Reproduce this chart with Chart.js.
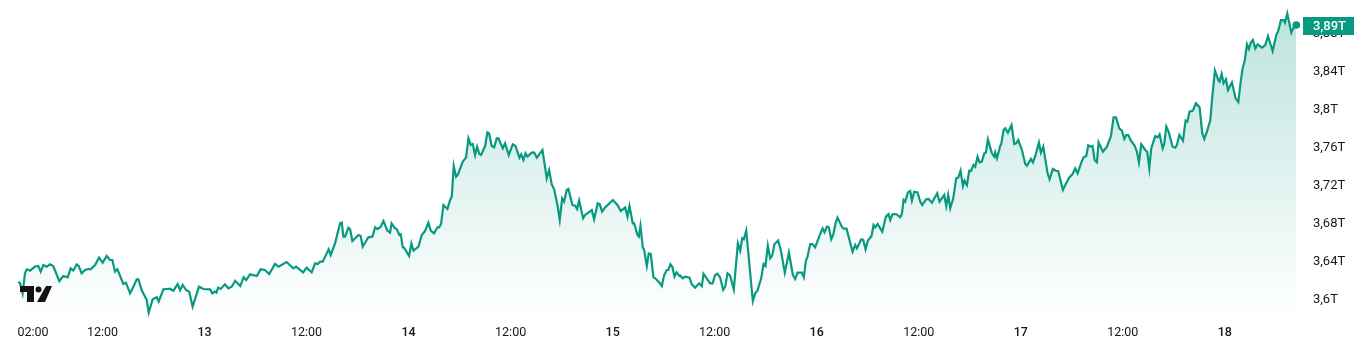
<!DOCTYPE html>
<html>
<head>
<meta charset="utf-8">
<title>Market cap</title>
<script src="https://cdn.jsdelivr.net/npm/chart.js@4"></script>
<style>
  html, body { margin: 0; padding: 0; background: #fff; }
  #wrap { position: relative; width: 1361px; height: 354px; }
</style>
</head>
<body>
<div id="wrap"><canvas id="chart"></canvas></div>
<script>
// hours since the 02:00 start of the window
const hours = [
  0.1,0.3,0.6,0.88,1.08,1.47,2.06,2.45,2.73,3.04,3.43,3.82,4.2,4.92,5.39,5.9,6.25,6.57,6.96,7.2,7.55,7.94,8.33,8.6,9.12,9.59,10.02,10.49,10.88,11.16,11.47,11.75,12.45,12.76,13.24,13.63,14.02,14.22,14.6,15.2,15.43,15.9,16.37,16.6,17.16,17.55,17.94,18.33,18.84,19.12,19.43,19.82,20.2,20.6,21.35,21.86,22.65,22.92,23.2,23.4,23.6,23.9,24.4,24.8,25.2,25.6,26.2,26.6,26.9,27.35,28.15,28.6,29.1,29.6,30.3,30.7,31.65,32.45,32.76,33.6,34,34.6,35,35.3,35.6,35.9,36.6,36.84,37.35,
  37.94,38.14,38.33,38.53,38.92,39.12,39.39,40.1,40.37,40.6,41.27,41.75,42.06,42.33,42.72,43.04,43.5,43.82,44,44.4,44.6,44.92,45.08,45.31,45.47,46.06,46.33,46.57,47.16,47.55,47.94,48.33,48.6,49,49.39,49.59,49.82,50.1,50.57,50.88,51.08,51.31,51.59,51.78,52.37,52.76,53.04,53.31,53.55,53.82,54.06,54.33,54.53,55,55.27,55.47,55.78,56.06,56.37,56.57,57.08,57.35,57.78,58.25,58.57,59.04,59.24,59.51,59.75,59.98,60.49,60.76,61.08,61.75,62.25,62.53,62.84,63.12,63.51,63.78,64.06,64.29,64.6,64.8,65.27,65.59,65.82,66.06,66.53,66.76,67.55,67.82,68.25,68.49,68.76,69.12,70.02,70.57,70.96,71.47,71.75,71.98,72.37,72.53,72.92,73.08,73.27,73.55,73.71,74.02,74.25,74.49,74.8,75,75.51,75.78,76.06,76.37,76.53,76.8,77.04,77.27,77.51,77.86,
  77.94,78.25,78.53,79.04,79.31,79.71,80.18,80.49,80.69,81.47,81.75,82.06,82.33,82.65,83,83.24,83.51,83.82,84.25,84.73,85,85.24,85.43,85.71,86.49,86.76,87.04,87.47,87.75,87.98,88.25,88.53,88.76,89.04,89.47,89.78,90.25,90.73,91.2,91.47,91.75,92.25,92.49,92.73,92.92,93.24,93.51,93.82,94.29,94.69,94.92,95.2,95.43,95.71,95.94,96.22,96.45,96.96,97.16,97.51,98.22,98.53,98.73,99.24,99.47,99.75,100.02,100.45,100.69,100.88,101.16,101.71,102.14,102.45,102.65,102.92,103.35,103.82,104.02,104.22,104.41,104.73,105,105.2,105.47,105.86,106.18,106.41,106.88,107.16,107.55,108.18,108.45,109,109.24,109.47,109.71,110.06,110.41,110.65,110.92,111.2,111.39,111.67,111.94,112.14,112.45,112.65,112.92,113.16,113.43,113.71,113.9,114.14,114.61,114.88,115,115.2,115.59,115.71,115.98,116.18,116.49,116.92,117.24,117.47,117.71,
  118.14,118.53,118.73,119.2,119.43,119.71,120.14,120.37,120.65,121.16,121.39,121.78,122.18,122.41,122.96,123.24,123.71,124.1,124.41,124.69,125.12,125.39,125.71,125.94,126.18,126.45,126.69,126.96,127.16,127.67,128.14,128.61,128.92,129.2,129.59,129.9,130.18,130.41,130.65,130.96,131.39,131.67,131.9,132.18,132.65,132.88,133.12,133.35,133.82,134.1,134.33,134.69,134.88,135.12,135.39,135.86,136.18,136.37,136.65,137.08,137.39,137.59,137.86,138.25,138.61,139.04,139.35,139.59,139.9,140.29,140.53,140.84,141.27,141.39,141.63,141.86,142.14,142.37,142.84,143.27,143.59,143.9,144.1,144.33,144.61,144.84,145.08,145.31,145.59,145.86,146.37,146.76,147.08,147.63,148.06,148.29,148.61,148.92,149.08,149.35,149.82,150.1,150.41
]
// total value in trillions
const values = [
  3.6172,3.6154,3.6049,3.626,3.6302,3.6288,3.633,3.6337,3.6277,3.6347,3.633,3.6354,3.6337,3.6179,3.6232,3.6218,3.6312,3.6288,3.6354,3.6337,3.626,3.6295,3.6305,3.6302,3.6347,3.6425,3.6372,3.6442,3.64,3.64,3.6277,3.6302,3.6147,3.6161,3.6049,3.6119,3.6196,3.6196,3.6084,3.5979,3.5846,3.5986,3.6007,3.5961,3.6091,3.6095,3.6098,3.6077,3.6147,3.6084,3.6137,3.6084,3.6067,3.5909,3.6119,3.6095,3.6091,3.6049,3.6067,3.6056,3.6109,3.6095,3.6144,3.6102,3.6119,3.6182,3.6126,3.6218,3.6189,3.6249,3.6232,3.6302,3.6295,3.6253,3.6358,3.633,3.6379,3.6312,3.633,3.627,3.6319,3.627,3.6365,3.6358,3.6382,3.6382,3.6512,3.6453,3.6575,
  3.6786,3.6793,3.6646,3.6646,3.674,3.6723,3.66,3.6663,3.6653,3.654,3.6639,3.6646,3.6744,3.6726,3.6751,3.6811,3.6709,3.6688,3.6786,3.6733,3.6726,3.6663,3.667,3.6533,3.653,3.6442,3.6575,3.6498,3.654,3.6663,3.6705,3.6793,3.6709,3.6681,3.6744,3.6744,3.6779,3.6979,3.6937,3.7032,3.7067,3.7389,3.7277,3.7295,3.7435,3.7481,3.7681,3.7611,3.7621,3.7505,3.7593,3.7516,3.7505,3.76,3.7744,3.7733,3.76,3.7586,3.7681,3.7681,3.7575,3.7628,3.7505,3.7618,3.76,3.7477,3.7512,3.7453,3.7523,3.7488,3.753,3.7533,3.7477,3.7558,3.726,3.7347,3.7196,3.7144,3.6979,3.6821,3.7049,3.7014,3.7137,3.7147,3.6979,3.6972,3.6937,3.7025,3.6839,3.6874,3.6926,3.6828,3.6996,3.6986,3.6909,3.6954,3.7032,3.6979,3.6916,3.6954,3.6856,3.6968,3.6786,3.6786,3.6663,3.6646,3.6758,3.6533,3.6505,3.6337,3.647,3.6463,3.6218,3.6207,3.6161,3.6126,3.6242,3.6295,3.6295,3.6354,3.6323,3.6225,3.627,3.6232,
  3.6235,3.6207,3.6225,3.6214,3.6144,3.6109,3.6154,3.6126,3.6253,3.6154,3.6154,3.6242,3.6256,3.6214,3.6084,3.6119,3.626,3.6235,3.6091,3.6575,3.6498,3.6628,3.6618,3.6709,3.5968,3.6049,3.6077,3.6207,3.6358,3.6337,3.6551,3.6418,3.6446,3.6568,3.6604,3.6505,3.6267,3.6477,3.6242,3.62,3.6267,3.6267,3.6218,3.6393,3.6435,3.6568,3.6568,3.6533,3.6646,3.6733,3.6691,3.6751,3.6744,3.6618,3.6663,3.6786,3.6846,3.6751,3.673,3.673,3.6488,3.6558,3.6523,3.6618,3.6611,3.6512,3.6604,3.6653,3.6768,3.6744,3.6779,3.6698,3.6856,3.6884,3.6821,3.6881,3.6884,3.6849,3.6884,3.7032,3.7014,3.7112,3.7126,3.7025,3.7119,3.7112,3.7014,3.6979,3.7039,3.7042,3.7004,3.7102,3.7014,3.7084,3.6968,3.7084,3.6944,3.7049,3.726,3.7267,3.734,3.7179,3.7235,3.7189,3.734,3.7337,3.74,3.7382,3.7488,3.7428,3.7435,3.7523,3.753,3.767,3.7523,3.7488,3.7533,3.747,3.76,3.7621,3.7768,3.7786,3.774,3.7821,3.7621,3.7628,3.7663,
  3.7558,3.7411,3.7393,3.7463,3.7428,3.7495,3.7635,3.753,3.7593,3.7312,3.7249,3.7358,3.7337,3.7337,3.7137,3.7189,3.727,3.7305,3.7365,3.7312,3.7425,3.7481,3.7495,3.7607,3.7593,3.76,3.7453,3.7428,3.7639,3.754,3.7593,3.7705,3.7902,3.7902,3.7786,3.7761,3.7674,3.7716,3.7716,3.7656,3.7604,3.754,3.7428,3.7618,3.7558,3.754,3.7365,3.7575,3.7705,3.7691,3.7723,3.7575,3.7621,3.7804,3.7751,3.7593,3.7582,3.7611,3.7716,3.7656,3.7867,3.7856,3.7961,3.7972,3.8049,3.8007,3.7733,3.7674,3.7751,3.7867,3.8119,3.8393,3.8288,3.8277,3.8358,3.826,3.8302,3.8189,3.827,3.8102,3.8063,3.8295,3.8418,3.8488,3.867,3.8621,3.8691,3.8716,3.8628,3.867,3.8635,3.8663,3.8758,3.86,3.8768,3.8814,3.8926,3.8926,3.8898,3.8996,3.8793,3.8849,3.8874
]
const xTickHours = [0, 10, 22, 34, 46, 58, 70, 82, 94, 106, 118, 130, 142, 151.2]
const xTickLabels = ["02:00", "12:00", "13", "12:00", "14", "12:00", "15", "12:00", "16", "12:00", "17", "12:00", "18", ""]
const yTickValues = [3.6, 3.64, 3.68, 3.72, 3.76, 3.8, 3.84, 3.88]
const yTickLabels = ["3,6T", "3,64T", "3,68T", "3,72T", "3,76T", "3,8T", "3,84T", "3,88T"]
const lastLabel = "3,89T"

const green = "#089981"
const points = hours.map((h, i) => ({ x: h, y: values[i] }))

// tradingview mark bottom left and the price tag on the axis
const overlay = {
  id: "overlay",
  afterDraw(chart) {
    const { ctx, scales } = chart
    ctx.save()
    ctx.fillStyle = "#131313"
    ctx.beginPath()
    ctx.moveTo(20, 286); ctx.lineTo(34, 286); ctx.lineTo(34, 302); ctx.lineTo(27, 302); ctx.lineTo(27, 292); ctx.lineTo(20, 292)
    ctx.closePath()
    ctx.fill()
    ctx.beginPath()
    ctx.arc(38.5, 289.5, 3, 0, Math.PI * 2)
    ctx.fill()
    ctx.beginPath()
    ctx.moveTo(46, 286); ctx.lineTo(52, 286); ctx.lineTo(45, 302); ctx.lineTo(37, 302)
    ctx.closePath()
    ctx.fill()

    const y = Math.round(scales.y.getPixelForValue(values[values.length - 1]))
    ctx.fillStyle = green
    ctx.fillRect(1303, y - 8, 51, 18)
    ctx.fillStyle = "#fff"
    ctx.font = "500 13px Roboto"
    ctx.textAlign = "left"
    ctx.textBaseline = "middle"
    ctx.fillText(lastLabel, 1313, y + 1.5)
    ctx.restore()
  },
}

const canvas = document.getElementById("chart")
const g = canvas.getContext("2d").createLinearGradient(0, 0, 0, 318)
g.addColorStop(0, "rgba(8,153,129,0.28)")
g.addColorStop(1, "rgba(8,153,129,0)")

const chart = new Chart(canvas, {
  type: "line",
  data: {
    datasets: [{
      data: points,
      borderColor: green,
      borderWidth: 2.2,
      backgroundColor: g,
      fill: "start",
      tension: 0,
      pointRadius: (c) => (c.dataIndex === values.length - 1 ? 3.8 : 0),
      pointBackgroundColor: green,
      pointBorderWidth: 0,
    }],
  },
  options: {
    responsive: true,
    maintainAspectRatio: false,
    animation: false,
    layout: { padding: { left: 17.5, top: 0, right: 0, bottom: 0 } },
    plugins: { legend: { display: false }, tooltip: { enabled: false } },
    scales: {
      x: {
        type: "linear",
        min: 0,
        max: 151.2,
        grid: { display: false },
        border: { display: false },
        afterBuildTicks(scale) {
          scale.ticks = xTickHours.map((v) => ({ value: v }))
        },
        afterFit(scale) {
          scale.height = 36
          scale.paddingLeft = 0
          scale.paddingRight = 0
        },
        ticks: {
          autoSkip: false,
          maxRotation: 0,
          align: "inner",
          padding: -1,
          color: "#131722",
          font: (c) => ({
            family: "Roboto",
            size: 12.5,
            weight: /^\d\d$/.test(xTickLabels[c.index]) ? "500" : "400",
          }),
          callback: (v, i) => xTickLabels[i],
        },
      },
      y: {
        position: "right",
        min: 3.5789,
        max: 3.9137,
        grid: { display: false },
        border: { display: false },
        afterBuildTicks(scale) {
          scale.ticks = yTickValues.map((v) => ({ value: v }))
        },
        afterFit(scale) {
          scale.width = 58
          scale.paddingTop = 0
          scale.paddingBottom = 0
        },
        ticks: {
          padding: 2,
          labelOffset: 2,
          color: "#131722",
          font: { family: "Roboto", size: 13 },
          callback: (v, i) => yTickLabels[i],
        },
      },
    },
  },
  plugins: [overlay],
})

// 3,6T sits 298px down and 0.04T takes 38px, so fit the range to the real plot area
const area = chart.chartArea
chart.options.scales.y.min = 3.6 - (area.bottom - 298) * 0.04 / 38
chart.options.scales.y.max = 3.6 + (298 - area.top) * 0.04 / 38
chart.update()
</script>
</body>
</html>
